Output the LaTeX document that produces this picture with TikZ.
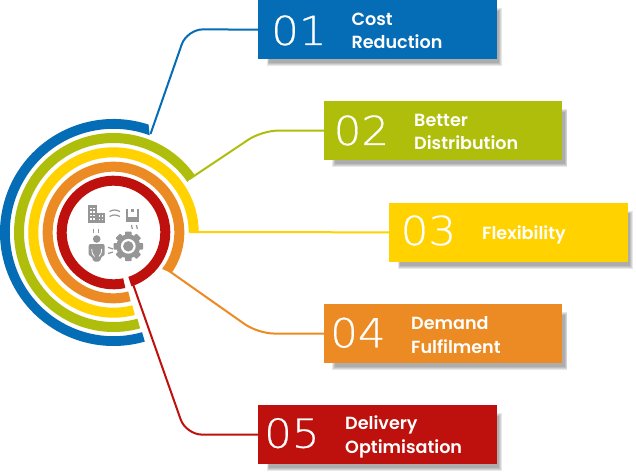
\documentclass[tikz,border=0pt]{standalone}
\usepackage{fontspec}
\setmainfont{Poppins}[BoldFont={Poppins SemiBold}]
\newfontfamily\numfont{DejaVu Sans ExtraLight}[FakeStretch=1.09,FakeBold=0.5]
\definecolor{cblue}{HTML}{056CB6}
\definecolor{cgreen}{HTML}{AFBE0B}
\definecolor{cyellow}{HTML}{FFD200}
\definecolor{corange}{HTML}{EC8B23}
\definecolor{cred}{HTML}{BE110D}
\definecolor{cicon}{HTML}{969696}
\tikzset{
  x=1pt,y=-1pt,
  box/.style={minimum width=238.4pt,minimum height=59.3pt,inner sep=0pt,outer sep=0pt,anchor=north west},
  num/.style={text=white,font=\numfont\fontsize{40}{40}\selectfont,anchor=base west,inner sep=0pt},
  lab/.style={text=white,font=\bfseries\fontsize{17.6}{23.3}\selectfont,anchor=base west,inner sep=0pt},
  link/.style={line width=2pt,rounded corners=16pt},
  icon/.style={fill=cicon,draw=none},
  iconline/.style={draw=cicon,line width=1.2pt},
  hole/.style={fill=white,draw=none},
}
% colour, outer r, inner r, start outer, start inner, end outer, end inner
\newcommand{\ringband}[7]{%
  \fill[#1] ({113.5+#2*cos(#4)},{232.5-#2*sin(#4)})
    arc[start angle=-#4,end angle=-#6,radius=#2]
    -- ({113.5+#3*cos(#7)},{232.5-#3*sin(#7)})
    arc[start angle=-#7,end angle=-#5,radius=#3] -- cycle;}
% node name, colour, left, top
\newcommand{\panel}[4]{%
  \foreach \k in {0,1,2,3}{
    \fill[black,opacity=.09] ({#3+8.3+\k*.9},{#4+8+\k*.9}) rectangle ({#3+243.4-\k*.9},{#4+66-\k*.9});
  }
  \node[box,fill=#2] (#1) at (#3,#4) {};}
\begin{document}
\begin{tikzpicture}
\useasboundingbox[fill=white] (0,0) rectangle (636,473);
% panels
\panel{b1}{cblue}{258.3}{0}
\panel{b2}{cgreen}{324}{101}
\panel{b3}{cyellow}{389.3}{202.7}
\panel{b4}{corange}{324}{304}
\panel{b5}{cred}{258.3}{405}
% numbers
\node[num] (n1) at (271,45) {01};
\node[num] (n2) at (333.5,145) {02};
\node[num] (n3) at (400.5,245) {03};
\node[num] (n4) at (330,347.3) {04};
\node[num] (n5) at (264,447.7) {05};
% labels
\node[lab] (t1a) at (351.3,25.7) {Cost};
\node[lab] (t1b) at (351.3,49) {Reduction};
\node[lab] (t2a) at (414,126.7) {Better};
\node[lab] (t2b) at (414,149.7) {Distribution};
\node[lab] (t3) at (482,239) {Flexibility};
\node[lab] (t4a) at (411,329) {Demand};
\node[lab] (t4b) at (411,353) {Fulfilment};
\node[lab] (t5a) at (345,429.7) {Delivery};
\node[lab] (t5b) at (345,453) {Optimisation};
% rings
\ringband{cblue}{113.5}{103.7}{72}{69.6}{286}{286}
\ringband{cgreen}{99.5}{89.5}{35.5}{34.4}{285.5}{285.5}
\ringband{cyellow}{85.2}{75.2}{0}{0}{284.5}{284.5}
\ringband{corange}{70.8}{60.8}{-35}{-36.8}{284}{284}
\ringband{cred}{56.8}{46.8}{-71.5}{-71.5}{282}{282}
% connector ends
\coordinate (s1) at (150.5,134);
\coordinate (k1) at (187,29.3);
\coordinate (s2) at (189.5,179);
\coordinate (k2) at (262,130.6);
\coordinate (s3) at (189.5,232);
\coordinate (s4) at (163.5,267);
\coordinate (k4) at (258,333.5);
\coordinate (s5) at (130.5,277);
\coordinate (k5) at (186,434.6);
\draw[link,cblue] (s1) -- (k1) -- (b1.west);
\draw[link,cgreen] (s2) -- (k2) -- (b2.west);
\draw[link,cyellow] (s3) -- (b3.west);
\draw[link,corange] (s4) -- (k4) -- (b4.west);
\draw[link,cred] (s5) -- (k5) -- (b5.west);
% icon: building
\fill[icon] (88.3,205) rectangle (96.7,223.3);
\fill[icon] (96.7,212.7) rectangle (105,223.3);
\foreach \wx in {90.3,93.3}{\foreach \wy in {207.5,211,214.5,218}{\fill[hole] (\wx,\wy) rectangle +(1.4,1.5);}}
\foreach \wx in {98.5,101.7}{\foreach \wy in {215,218.5}{\fill[hole] (\wx,\wy) rectangle +(1.6,1.6);}}
% icon: links
\draw[iconline] (109.5,211.5) .. controls (113,209.5) and (116,209.5) .. (120,211.5);
\draw[iconline] (109.5,216.5) .. controls (113,214.5) and (116,214.5) .. (120,216.5);
% icon: tray
\fill[icon] (126,208.5) rectangle (128.3,221.7);
\fill[icon] (137,208.5) rectangle (139.4,221.7);
\fill[icon] (126,217) rectangle (139.4,221.7);
\fill[icon] (131,208.5) rectangle (134.4,211.5);
% dashes
\draw[iconline] (131.5,225) -- (132.3,229);
\draw[iconline] (136.5,225) -- (137.3,229);
\draw[iconline] (93.3,229) -- (93.3,233);
\draw[iconline] (98.7,229) -- (98.7,233);
\draw[iconline] (108,247.3) -- (113,249);
\draw[iconline] (108,253.5) -- (113,252);
% icon: person
\fill[icon] (96.7,239) circle[radius=3.8];
\fill[icon,rounded corners=2pt] (88.7,244) -- (104.7,244) -- (104.7,256) -- (101,256) -- (100.5,261.7) -- (92.8,261.7) -- (92.3,256) -- (88.7,256) -- cycle;
\draw[white,line width=.8pt] (91.8,249) .. controls (91.8,253) and (93,255) .. (94.5,256.5);
\draw[white,line width=.8pt] (101.6,249) .. controls (101.6,253) and (100.4,255) .. (99,256.5);
% icon: gear
\fill[icon] (128.3,246.3) circle[radius=12];
\foreach \g in {0,45,...,315}{
  \fill[icon,rotate around={\g:(128.3,246.3)},rounded corners=.8pt] (125,246.3) rectangle (131.6,231.5);
}
\fill[hole] (128.3,246.3) circle[radius=7.4];
\fill[icon] (128.3,246.3) circle[radius=5.2];
\end{tikzpicture}
\end{document}
